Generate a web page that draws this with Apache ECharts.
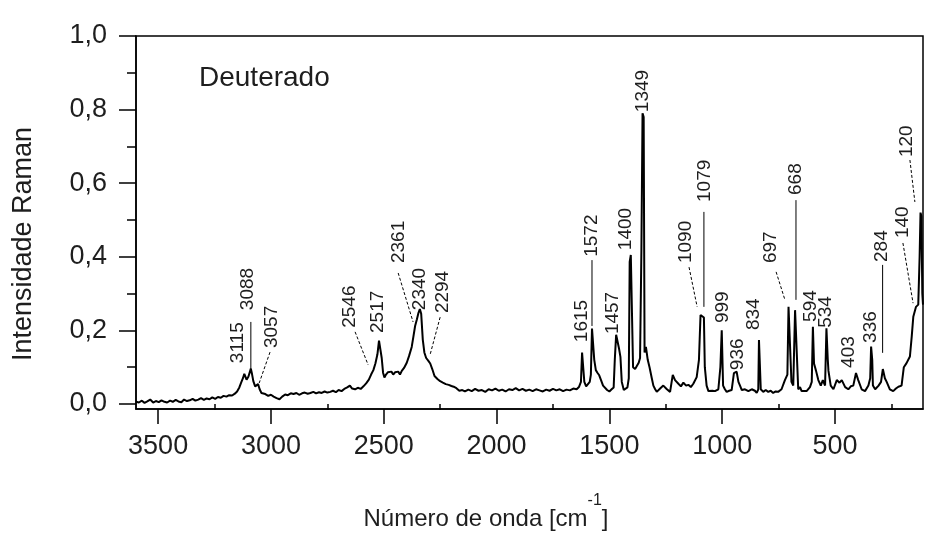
<!DOCTYPE html>
<html><head><meta charset="utf-8">
<script src="https://cdn.jsdelivr.net/npm/echarts@6/dist/echarts.min.js"></script>
<style>html,body{margin:0;padding:0;background:#fff}#c{width:925px;height:537px}</style>
</head><body><div id="c"></div>
<script>
// ---- spectrum (wavenumber cm^-1, Raman intensity) ----
const wavenumber = [
3598,3585,3572,3560,3548,3535,3522,3510,3497,3485,3472,3460,3447,3435,3422,3410,3397,3385,3372,3360,
3347,3335,3322,3310,3297,3285,3272,3260,3247,3235,3222,3210,3197,3185,3172,3160,3150,3140,3132,3124,
3118,3114,3108,3100,3094,3089,3084,3078,3070,3063,3057,3050,3042,3034,3025,3012,3000,2988,2975,2962,
2950,2937,2925,2912,2900,2887,2875,2862,2850,2837,2825,2812,2800,2787,2775,2762,2750,2737,2725,2712,
2700,2687,2675,2662,2650,2640,2627,2615,2602,2590,2578,2566,2556,2546,2537,2528,2521,2515,2509,2503,
2497,2490,2482,2474,2466,2458,2450,2444,2436,2428,2420,2410,2398,2388,2376,2368,2361,2353,2346,2340,
2334,2327,2320,2312,2303,2294,2285,2275,2262,2250,2238,2225,2212,2200,2190,2178,2165,2152,2140,2125,
2110,2095,2080,2065,2050,2035,2020,2005,1990,1975,1960,1945,1930,1915,1900,1885,1870,1855,1840,1825,
1810,1795,1780,1765,1750,1735,1720,1705,1690,1675,1660,1645,1635,1626,1621,1616,1611,1603,1595,1587,
1582,1577,1572,1567,1560,1553,1545,1537,1528,1520,1510,1500,1490,1481,1476,1470,1463,1457,1451,1445,
1436,1428,1420,1414,1410,1405,1400,1395,1386,1378,1370,1364,1358,1353,1348,1344,1338,1330,1322,1312,
1305,1297,1290,1275,1261,1245,1231,1224,1219,1209,1194,1183,1172,1160,1150,1139,1128,1113,1103,1096,
1088,1081,1077,1069,1061,1054,1043,1032,1017,1008,1002,996,988,980,969,958,948,936,928,921,
913,906,899,884,869,855,847,840,837,833,829,818,807,796,785,774,763,752,737,722,
711,706,699,693,685,677,670,663,655,648,641,626,611,603,598,593,584,574,563,554,
544,538,532,529,519,507,492,480,470,455,441,430,419,407,397,382,367,352,344,340,
335,332,322,307,296,288,284,279,271,257,242,230,219,205,195,183,168,160,153,141,
131,125,121,117,113,110
];
const intensity = [
.006,.004,.009,.003,.007,.012,.004,.008,.005,.010,.006,.004,.009,.006,.011,.007,.005,.012,.008,.010,
.014,.009,.012,.016,.011,.015,.013,.018,.014,.019,.017,.022,.020,.024,.023,.028,.034,.045,.058,.070,
.082,.086,.066,.074,.086,.096,.082,.062,.048,.046,.054,.040,.030,.027,.027,.022,.025,.020,.016,.013,
.020,.026,.024,.029,.027,.030,.025,.029,.031,.028,.030,.033,.029,.032,.030,.034,.031,.033,.036,.032,
.038,.035,.041,.045,.050,.042,.040,.044,.041,.048,.056,.066,.080,.092,.110,.135,.172,.168,.125,.085,
.072,.080,.086,.083,.088,.080,.086,.082,.088,.080,.090,.098,.112,.130,.155,.185,.212,.230,.248,.258,
.245,.175,.140,.125,.118,.110,.095,.076,.068,.062,.058,.054,.052,.049,.047,.043,.036,.038,.034,.039,
.035,.041,.036,.038,.033,.040,.037,.042,.036,.039,.034,.040,.038,.043,.037,.041,.036,.039,.035,.040,
.037,.034,.039,.036,.041,.037,.040,.035,.039,.037,.042,.040,.046,.060,.140,.142,.060,.048,.052,.060,
.080,.205,.200,.120,.092,.085,.078,.065,.050,.046,.038,.034,.040,.045,.120,.188,.185,.150,.128,.060,
.038,.034,.045,.070,.386,.405,.410,.100,.095,.100,.112,.125,.420,.790,.780,.140,.155,.120,.100,.070,
.050,.040,.033,.042,.050,.040,.033,.060,.079,.065,.055,.048,.058,.050,.052,.046,.055,.073,.120,.242,
.245,.235,.100,.050,.035,.030,.036,.035,.040,.100,.200,.050,.040,.033,.036,.038,.084,.088,.060,.050,
.038,.033,.040,.035,.040,.036,.030,.040,.174,.170,.040,.033,.038,.033,.036,.030,.034,.033,.040,.065,
.080,.264,.267,.060,.050,.255,.255,.040,.046,.035,.040,.035,.046,.060,.210,.110,.090,.065,.050,.065,
.050,.206,.120,.090,.050,.040,.065,.058,.065,.046,.040,.048,.050,.084,.065,.040,.035,.050,.070,.156,
.120,.050,.040,.050,.060,.095,.100,.070,.060,.040,.035,.042,.047,.050,.100,.111,.129,.183,.237,.264,
.270,.400,.520,.510,.300,.270
];

// ---- axis ticks ----
const xTickValues = [500, 1000, 1500, 2000, 2500, 3000, 3500];
const xMinorTickValues = [250, 750, 1250, 1750, 2250, 2750, 3250];
const yTickValues = [0, 0.2, 0.4, 0.6, 0.8, 1.0];
const yMinorTickValues = [0.1, 0.3, 0.5, 0.7, 0.9];

// ---- peak annotations ----
const peakLabels = ['3115','3088','3057','2546','2517','2361','2340','2294','1615','1572','1457','1400','1349',
  '1090','1079','999','936','834','697','668','594','534','403','336','284','140','120'];
const peakLabelX = [3146,3103,2996,2649,2525,2432,2339,2237,1621,1577,1484,1426,1351,
  1160,1076,996,930,859,784,673,606,540,438,341,292,199,181];
const peakLabelY = [0.111,0.255,0.152,0.207,0.193,0.383,0.255,0.247,0.168,0.400,0.190,0.418,0.793,
  0.383,0.549,0.220,0.092,0.201,0.383,0.568,0.223,0.207,0.098,0.166,0.386,0.451,0.671];

// leader lines: start (near label) -> end (near peak)
const leaderStartX = [3089,3004,2627,2436,2250,1577,1147,1081,761,673,289,199,168];
const leaderStartY = [0.223,0.141,0.196,0.356,0.236,0.391,0.372,0.522,0.359,0.554,0.378,0.4375,0.663];
const leaderEndX   = [3089,3052,2569,2370,2295,1577,1111,1081,722,673,289,154,146];
const leaderEndY   = [0.084,0.057,0.106,0.223,0.133,0.212,0.264,0.264,0.283,0.283,0.139,0.274,0.549];
const leaderDashed = [false,true,true,true,true,false,true,false,true,false,false,true,true];

const FONT = '"Liberation Sans", Arial, Helvetica, sans-serif';
const TXT = '#1e1e1e';

const chart = echarts.init(document.getElementById('c'), null, {renderer: 'canvas'});

const xBase = {type: 'value', min: 110, max: 3598, inverse: true, position: 'bottom', gridIndex: 0,
  splitLine: {show: false}, axisPointer: {show: false}};
const yBase = {type: 'value', min: -0.0136, max: 1.0, position: 'left', gridIndex: 0,
  splitLine: {show: false}};

const option = {
  animation: false,
  backgroundColor: '#fff',
  grid: {left: 136, right: 2, top: 36, bottom: 128, show: true, borderColor: '#000', borderWidth: 1.5, backgroundColor: 'transparent'},
  xAxis: [
    Object.assign({}, xBase, {
      axisLine: {show: true, onZero: false, lineStyle: {color: '#000', width: 1.5}},
      axisTick: {show: true, length: 15, customValues: xTickValues, lineStyle: {color: '#000', width: 1.5}},
      axisLabel: {show: true, customValues: xTickValues, margin: 24, fontSize: 27, color: TXT, fontFamily: FONT,
        formatter: v => String(Math.round(v))}
    }),
    Object.assign({}, xBase, {
      axisLine: {show: false},
      axisTick: {show: true, length: 6, customValues: xMinorTickValues, lineStyle: {color: '#000', width: 1.5}},
      axisLabel: {show: false}
    })
  ],
  yAxis: [
    Object.assign({}, yBase, {
      axisLine: {show: true, onZero: false, lineStyle: {color: '#000', width: 1.5}},
      axisTick: {show: true, length: 17, customValues: yTickValues, lineStyle: {color: '#000', width: 1.5}},
      axisLabel: {show: true, customValues: yTickValues, margin: 29, fontSize: 27, color: TXT, fontFamily: FONT,
        formatter: v => Number(v).toFixed(1).replace('.', ',')}
    }),
    Object.assign({}, yBase, {
      axisLine: {show: false},
      axisTick: {show: true, length: 9, customValues: yMinorTickValues, lineStyle: {color: '#000', width: 1.5}},
      axisLabel: {show: false}
    })
  ],
  series: [
    {
      type: 'line', xAxisIndex: 0, yAxisIndex: 0,
      data: wavenumber.map((w, i) => [w, intensity[i]]),
      showSymbol: false, symbol: 'none',
      lineStyle: {color: '#000', width: 2},
      clip: true, z: 3
    },
    {
      type: 'custom', xAxisIndex: 0, yAxisIndex: 0,
      data: leaderStartX.map((x, i) => [x, leaderStartY[i], leaderEndX[i], leaderEndY[i]]),
      encode: {x: [0, 2], y: [1, 3]},
      renderItem: function (params, api) {
        const a = api.coord([api.value(0), api.value(1)]);
        const b = api.coord([api.value(2), api.value(3)]);
        return {type: 'line', shape: {x1: a[0], y1: a[1], x2: b[0], y2: b[1]},
          style: {stroke: '#000', lineWidth: 1, lineDash: leaderDashed[params.dataIndex] ? [3, 2] : null}};
      },
      silent: true, z: 4
    },
    {
      type: 'custom', xAxisIndex: 0, yAxisIndex: 0,
      data: peakLabelX.map((x, i) => [x, peakLabelY[i]]),
      renderItem: function (params, api) {
        const p = api.coord([api.value(0), api.value(1)]);
        return {type: 'text', x: p[0], y: p[1], rotation: Math.PI / 2,
          style: {text: peakLabels[params.dataIndex], fontSize: 19, fontFamily: FONT, fill: TXT,
            align: 'left', verticalAlign: 'middle'}};
      },
      silent: true, z: 5
    }
  ],
  graphic: [
    {type: 'text', left: 199, top: 64, style: {text: 'Deuterado', fontSize: 28, fontFamily: FONT, fill: TXT}},
    {type: 'text', x: 24, y: 244, rotation: Math.PI / 2,
      style: {text: 'Intensidade Raman', fontSize: 27, fontFamily: FONT, fill: TXT, align: 'center', verticalAlign: 'middle'}},
    {type: 'text', x: 486, y: 512,
      style: {text: '{a|Número de onda [cm}{s|-1}{a|]}', align: 'center', verticalAlign: 'middle',
        rich: {a: {fontSize: 24, fontFamily: FONT, fill: TXT, color: TXT, verticalAlign: 'bottom', lineHeight: 38},
               s: {fontSize: 16, fontFamily: FONT, fill: TXT, color: TXT, verticalAlign: 'top', lineHeight: 38}}}}
  ]
};
chart.setOption(option);
</script>
</body></html>
